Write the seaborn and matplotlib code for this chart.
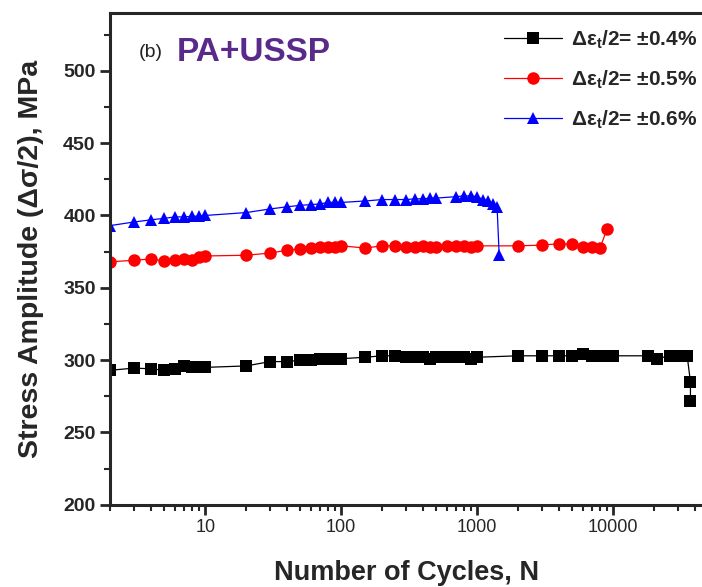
import pandas as pd
import seaborn as sns
import matplotlib.pyplot as plt
from matplotlib.ticker import LogLocator, FixedLocator, NullFormatter

# Data: cycles and stress amplitude (MPa)
cycles_04 = [2, 3, 4, 5, 6, 7, 8, 9, 10, 20, 30, 40, 50, 60, 70, 80, 90, 100,
             150, 200, 250, 300, 350, 400, 450, 500, 600, 700, 800, 900, 1000,
             2000, 3000, 4000, 5000, 6000, 7000, 8000, 9000, 10000, 18000,
             21000, 26000, 30000, 35000, 37000, 37000]
stress_04 = [293, 294.5, 294, 293, 294, 296, 295, 295, 295, 296, 299, 299, 300,
             300, 301, 301, 301, 301, 302, 303, 303, 302, 302, 302, 301, 302,
             302, 302, 302, 301, 302, 303, 303, 303, 303, 304, 303, 303, 303,
             303, 303, 301, 303, 303, 303, 285, 272]

cycles_05 = [2, 3, 4, 5, 6, 7, 8, 9, 10, 20, 30, 40, 50, 60, 70, 80, 90, 100,
             150, 200, 250, 300, 350, 400, 450, 500, 600, 700, 800, 900, 1000,
             2000, 3000, 4000, 5000, 6000, 7000, 8000, 9000]
stress_05 = [368, 369, 370, 368.5, 369, 370, 369, 371, 372, 372.5, 374, 376,
             377, 377.5, 378, 378, 378, 379, 377.5, 379, 379, 378, 378, 379,
             378, 378, 379, 379, 379, 378.5, 379, 379, 379.5, 380.5, 380,
             378, 378, 377.5, 390.5]

cycles_06 = [2, 3, 4, 5, 6, 7, 8, 9, 10, 20, 30, 40, 50, 60, 70, 80, 90, 100,
             150, 200, 250, 300, 350, 400, 450, 500, 700, 800, 900, 1000, 1100,
             1200, 1300, 1400, 1450]
stress_06 = [393, 395.5, 397, 398, 399, 399, 399.5, 399.5, 400, 402, 404.5,
             406, 407, 407.5, 408, 409, 409, 409, 410, 411, 411, 411, 411.5,
             411.5, 412, 412, 413, 413.5, 413.5, 413, 411, 410, 408, 406, 373]

labels = [r"$\Delta\varepsilon_t$/2= ±0.4%",
          r"$\Delta\varepsilon_t$/2= ±0.5%",
          r"$\Delta\varepsilon_t$/2= ±0.6%"]

sns.set_style("ticks")
plt.rcParams["font.family"] = ["Liberation Sans", "DejaVu Sans"]
plt.rcParams["mathtext.fontset"] = "custom"
plt.rcParams["mathtext.rm"] = "Liberation Sans:bold"
plt.rcParams["mathtext.it"] = "Liberation Sans:bold"
plt.rcParams["mathtext.bf"] = "Liberation Sans:bold"
plt.rcParams["mathtext.default"] = "rm"

fig = plt.figure(figsize=(7.02, 5.87), dpi=100)
ax = fig.add_axes([0.157, 0.14, 0.843, 0.838])

series = [
    (cycles_04, stress_04, "black", "s", 8),
    (cycles_05, stress_05, "red", "o", 9),
    (cycles_06, stress_06, "blue", "^", 9),
]
for (x, y, color, marker, size), label in zip(series, labels):
    df = pd.DataFrame({"N": x, "stress": y})
    sns.lineplot(data=df, x="N", y="stress", ax=ax, color=color,
                 marker=marker, markersize=size, markeredgewidth=0,
                 linewidth=0.9, sort=False, estimator=None, label=label)

ax.set_xscale("log")
ax.set_xlim(2, 45000)
ax.set_ylim(200, 540)

ax.yaxis.set_major_locator(FixedLocator([200, 250, 300, 350, 400, 450, 500]))
ax.yaxis.set_minor_locator(FixedLocator([225, 275, 325, 375, 425, 475, 525]))
ax.xaxis.set_major_locator(LogLocator(base=10))
ax.xaxis.set_minor_locator(LogLocator(base=10, subs=range(2, 10)))
ax.xaxis.set_minor_formatter(NullFormatter())
ax.set_xticks([10, 100, 1000, 10000])
ax.set_xticklabels(["10", "100", "1000", "10000"])

ax.tick_params(axis="both", which="major", direction="out", length=7,
               width=2)
ax.tick_params(axis="x", which="major", labelsize=13)
ax.tick_params(axis="y", which="major", labelsize=14)
ax.tick_params(axis="both", which="minor", direction="out", length=4,
               width=1.5)
for t in ax.get_yticklabels():
    t.set_fontweight("bold")

for side in ["left", "bottom", "top"]:
    ax.spines[side].set_linewidth(2.2)
ax.spines["right"].set_visible(False)

ax.set_xlabel("Number of Cycles, N", fontsize=19.5, fontweight="bold",
              labelpad=17)
ax.set_ylabel("Stress Amplitude (Δσ/2), MPa", fontsize=20.5,
              fontweight="bold", labelpad=14)

ax.text(0.048, 0.92, "(b)", transform=ax.transAxes, fontsize=14,
        color="#222222", va="center")
ax.text(0.113, 0.92, "PA+USSP", transform=ax.transAxes, fontsize=24,
        fontweight="bold", color="#5a2a8a", va="center")

leg = ax.legend(loc="upper right", bbox_to_anchor=(1.018, 1.0), frameon=False,
                fontsize=15, handlelength=2.8, handletextpad=0.4,
                labelspacing=0.85, borderaxespad=0.35)
for t in leg.get_texts():
    t.set_fontweight("bold")

fig.savefig("out.png", dpi=100)
